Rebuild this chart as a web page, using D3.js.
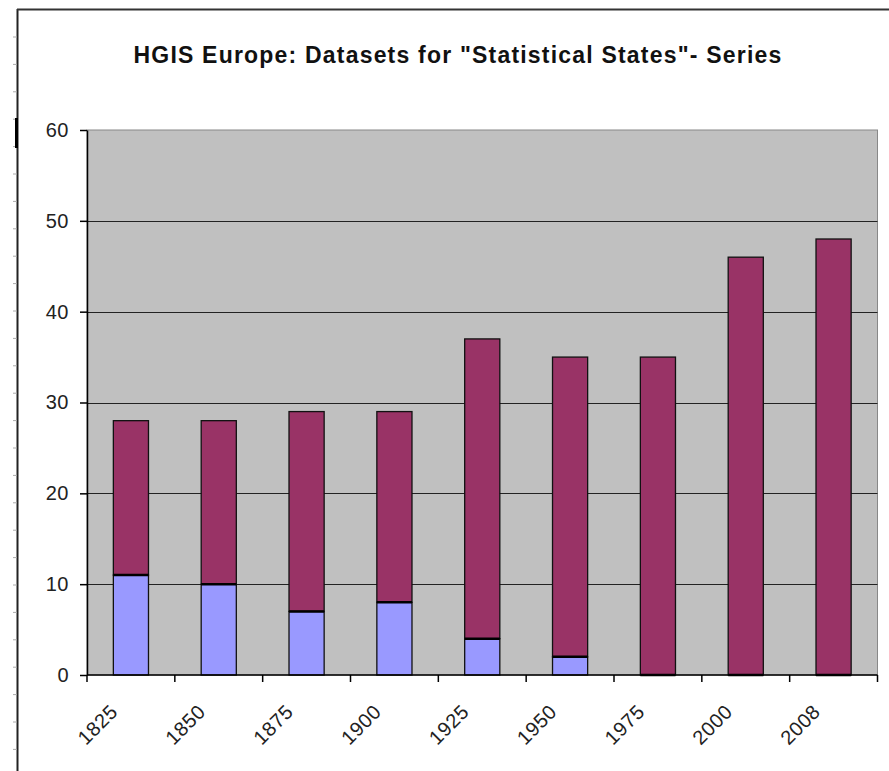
<!DOCTYPE html>
<html><head><meta charset="utf-8">
<script src="https://cdn.jsdelivr.net/npm/d3@7"></script>
<style>body{margin:0;background:#fff}svg{display:block}text{font-family:"Liberation Sans",Arial,sans-serif}</style>
</head><body><svg id="c" width="889" height="771"></svg>
<script>
const categories = ["1825","1850","1875","1900","1925","1950","1975","2000","2008"];
const lowerSeries = [11,10,7,8,4,2,0,0,0];
const upperSeries = [17,18,22,21,33,33,35,46,48];
const yTicks = [0,10,20,30,40,50,60];
const title = "HGIS Europe: Datasets for \"Statistical States\"- Series";

const svg = d3.select("#c");
const L = 87, R = 877.5, T = 130, B = 675;

// outer chart frame
svg.append("line").attr("x1",17.5).attr("x2",17.5).attr("y1",9).attr("y2",771).attr("stroke","#222").attr("stroke-width",2);
svg.append("line").attr("x1",17).attr("x2",889).attr("y1",9.5).attr("y2",9.5).attr("stroke","#333").attr("stroke-width",2);
d3.range(0,27).forEach(i=>{
  const y = 37 + 27.4*i;
  if (y < 771) svg.append("line").attr("x1",13).attr("x2",17).attr("y1",y).attr("y2",y).attr("stroke","#aaa").attr("stroke-width",1);
});
svg.append("line").attr("x1",16.5).attr("x2",16.5).attr("y1",118).attr("y2",148).attr("stroke","#000").attr("stroke-width",3);

svg.append("text").attr("x",458).attr("y",63).attr("text-anchor","middle")
  .attr("font-size",23).attr("font-weight","bold").attr("fill","#111")
  .attr("letter-spacing",1.2).text(title);

const x = d3.scaleBand().domain(categories).range([L,R]).paddingInner(0.6).paddingOuter(0.3);
const xb = d3.scaleBand().domain(categories).range([L,R]);
const y = d3.scaleLinear().domain([0,60]).range([B,T]);

svg.append("rect").attr("x",L).attr("y",T).attr("width",R-L).attr("height",B-T)
  .attr("fill","#c0c0c0").attr("stroke","#888").attr("stroke-width",1);

// gridlines
svg.append("g").selectAll("line").data(yTicks.filter(d=>d>0 && d<60)).join("line")
  .attr("x1",L).attr("x2",R).attr("y1",d=>Math.round(y(d))+0.5).attr("y2",d=>Math.round(y(d))+0.5)
  .attr("stroke","#222").attr("stroke-width",1.2);

const stack = categories.map((c,i)=>({c, a:lowerSeries[i], b:upperSeries[i]}));
const g = svg.append("g");
g.selectAll("rect.u").data(stack).join("rect").attr("class","u")
  .attr("x",d=>x(d.c)).attr("width",x.bandwidth())
  .attr("y",d=>y(d.a+d.b)).attr("height",d=>y(d.a)-y(d.a+d.b))
  .attr("fill","#993366").attr("stroke","#111").attr("stroke-width",1.3);
g.selectAll("rect.l").data(stack).join("rect").attr("class","l")
  .attr("x",d=>x(d.c)).attr("width",x.bandwidth())
  .attr("y",d=>y(d.a)).attr("height",d=>y(0)-y(d.a))
  .attr("fill","#9999ff").attr("stroke","#111").attr("stroke-width",1.3);
g.selectAll("line.top").data(stack).join("line").attr("class","top")
  .attr("x1",d=>x(d.c)).attr("x2",d=>x(d.c)+x.bandwidth())
  .attr("y1",d=>y(d.a)).attr("y2",d=>y(d.a))
  .attr("stroke","#000").attr("stroke-width",2.5);

// y axis
const ya = svg.append("g").attr("transform",`translate(${L},0)`)
  .call(d3.axisLeft(y).tickValues(yTicks).tickSize(7).tickSizeOuter(0).tickPadding(11));
ya.select(".domain").attr("stroke","#000").attr("stroke-width",1.5);
ya.selectAll(".tick line").attr("stroke","#000").attr("stroke-width",1.5);
ya.selectAll(".tick text").attr("font-size",20).attr("fill","#222").attr("letter-spacing",0.5)
  .attr("font-family","Liberation Sans, Arial, sans-serif");

// x axis
const xa = svg.append("g").attr("transform",`translate(0,${B})`);
xa.append("line").attr("x1",L).attr("x2",R).attr("y1",0).attr("y2",0).attr("stroke","#000").attr("stroke-width",1.5);
xa.selectAll("line.t").data(categories.concat(["__end"])).join("line").attr("class","t")
  .attr("x1",(d,i)=> i<categories.length ? xb(d) : R).attr("x2",(d,i)=> i<categories.length ? xb(d) : R)
  .attr("y1",0).attr("y2",7).attr("stroke","#000").attr("stroke-width",1.5);
xa.selectAll("text").data(categories).join("text")
  .attr("transform",d=>`translate(${xb(d)+xb.bandwidth()/2-12},${38}) rotate(-45)`)
  .attr("text-anchor","end").attr("font-size",20).attr("letter-spacing",0.5).attr("fill","#222").text(d=>d);
</script></body></html>
